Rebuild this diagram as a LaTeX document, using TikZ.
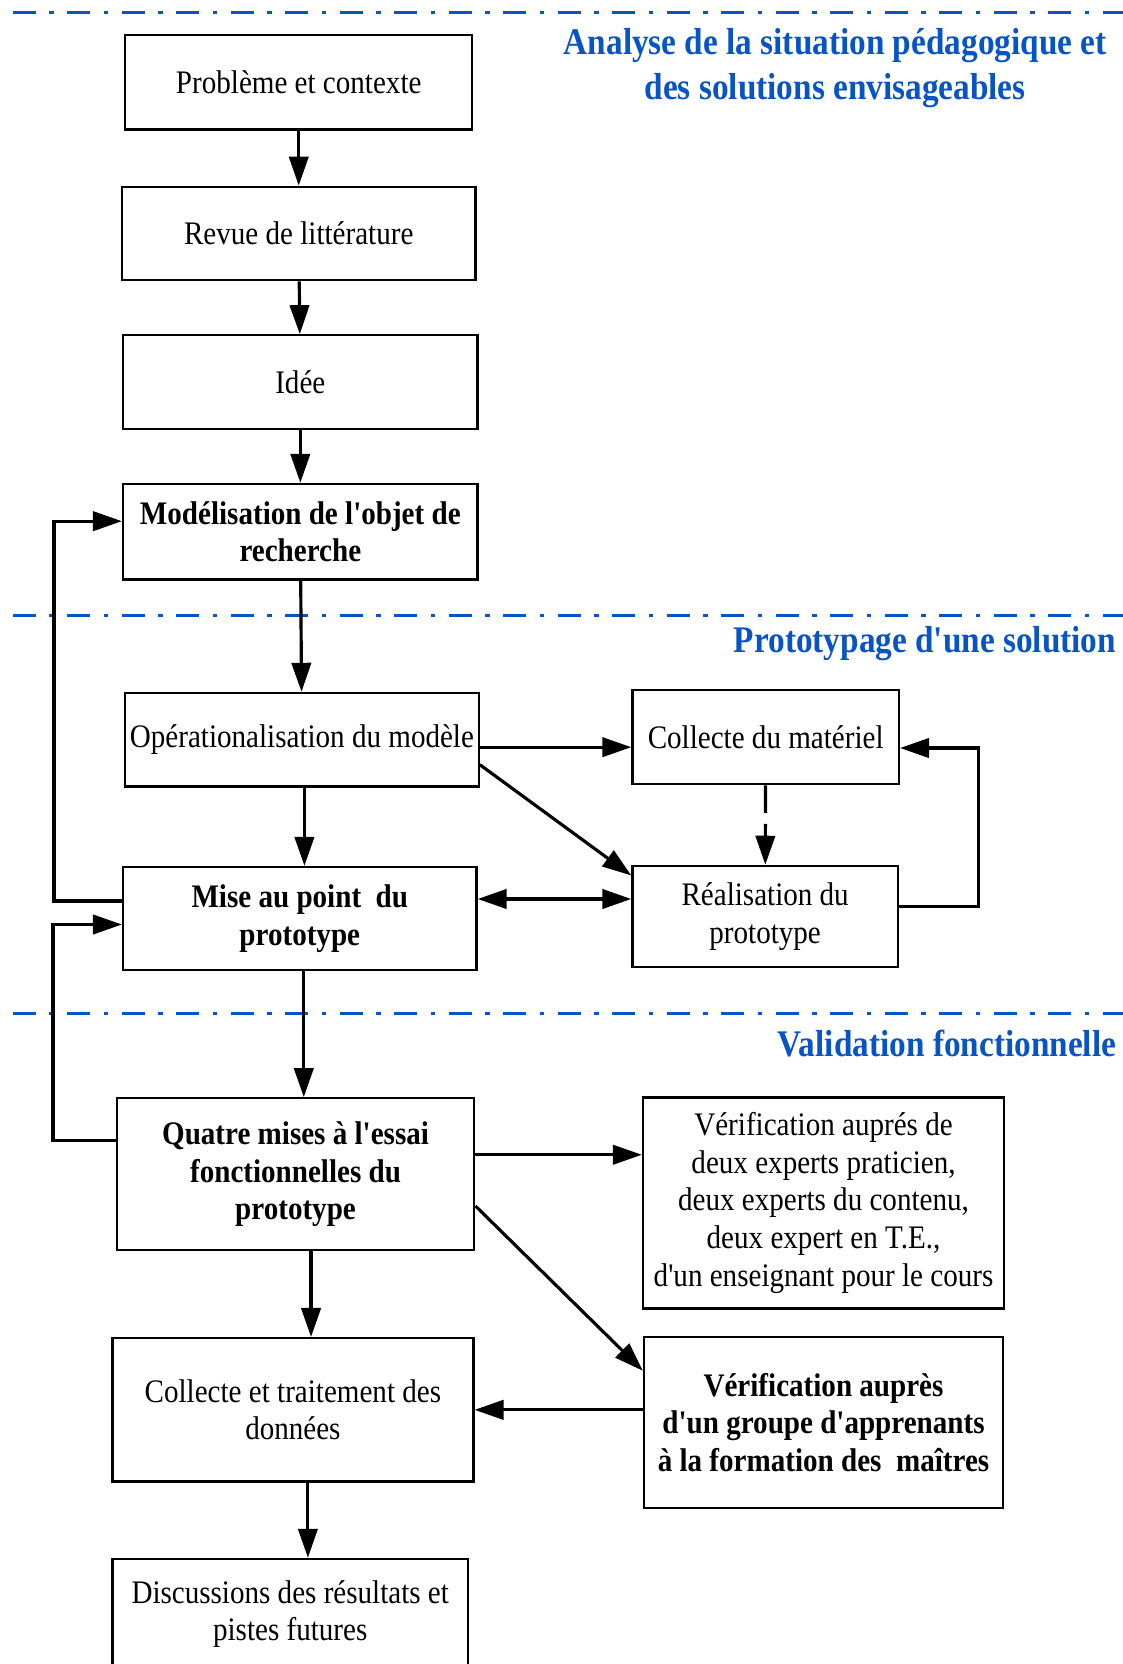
\documentclass[tikz,border=0pt]{standalone}
\usepackage{fontspec}
\setmainfont{Liberation Serif}[FakeStretch=0.885, Ligatures=TeXOff]
\usepackage{xcolor}
\usepackage{tikz}
\usetikzlibrary{arrows.meta, calc, positioning}
\definecolor{bleuphase}{RGB}{8,84,196}
\newcommand{\corps}{\fontsize{18.7}{21.4}\selectfont}
\newcommand{\grand}{\fontsize{21.4}{25.3}\selectfont\bfseries}

\begin{document}
\begin{tikzpicture}[x=0.02123cm, y=-0.02123cm,
	>={Triangle[length=16.5pt, width=11pt]},
	etape/.style={draw, line width=1.3pt, inner sep=0pt, align=center, font=\corps},
	fleche/.style={->, line width=1.8pt},
	frontiere/.style={draw=bleuphase, line width=2pt, dash pattern=on 0.46cm off 0.27cm on 0.09cm off 0.27cm},
	phase/.style={text=bleuphase, font=\grand, inner sep=0pt}]
		
		\clip (0,0) rectangle (1058,1568);
		
		% limites des phases
		\draw[frontiere] (12,12) -- (1058,12);
		\draw[frontiere] (12,580) -- (1058,580);
		\draw[frontiere] (12,955) -- (1058,955);
		
		\node[phase, align=center] (titre1) at (787,64) {Analyse de la situation pédagogique et\\des solutions envisageables};
		\node[phase, anchor=east] (titre2) at (1052,606) {Prototypage d'une solution};
		\node[phase, anchor=east] (titre3) at (1052,983) {Validation fonctionnelle};
		
		\node[etape, minimum width=6.94cm, minimum height=1.89cm] (pb) at (281.5,77.5) {Problème et contexte};
		\node[etape, minimum width=7.07cm, minimum height=1.87cm] (revue) at (281.5,220) {Revue de littérature};
		\node[etape, minimum width=7.09cm, minimum height=1.87cm] (idee) at (283,360) {Idée};
		\node[etape, minimum width=7.09cm, minimum height=1.91cm, font=\corps\bfseries] (modele) at (283,501) {Modélisation de l'objet de\\recherche};
		
		\node[etape, minimum width=7.07cm, minimum height=1.87cm] (oper) at (284.5,697) {Opérationalisation du modèle};
		\node[etape, minimum width=5.33cm, minimum height=1.89cm] (collecte) at (721.5,694.5) {Collecte du matériel};
		\node[etape, minimum width=5.31cm, minimum height=2.02cm] (realis) at (721,863.5) {Réalisation du\\prototype};
		\node[etape, minimum width=7.07cm, minimum height=2.06cm, font=\corps\bfseries] (mise) at (282.5,865.5) {Mise au point~ du\\prototype};
		
		\node[etape, minimum width=7.15cm, minimum height=3.04cm, font=\corps\bfseries] (essai) at (278.5,1106.5) {Quatre mises à l'essai\\fonctionnelles du\\prototype};
		\node[etape, minimum width=7.22cm, minimum height=4.22cm] (verif1) at (776,1133.5) {Vérification auprés de\\deux experts praticien,\\deux experts du contenu,\\deux expert en T.E.,\\d'un enseignant pour le cours};
		\node[etape, minimum width=7.18cm, minimum height=3.42cm, font=\corps\bfseries] (verif2) at (776,1340.5) {Vérification auprès\\d'un groupe d'apprenants\\à la formation des~ maîtres};
		\node[etape, minimum width=7.22cm, minimum height=2.87cm] (traite) at (276,1328.5) {Collecte et traitement des\\données};
		\node[etape, minimum width=7.11cm, minimum height=2.21cm] (discu) at (273.5,1521) {Discussions des résultats et\\pistes futures};
		
		\path[fleche]
		(pb) edge (revue)
		(revue) edge (idee)
		(idee) edge (modele)
		(modele) edge (oper)
		;
		
		\draw[fleche] ([xshift=0.05cm]oper.south) -- ([xshift=0.05cm]oper.south |- mise.north);
		\draw[fleche] ([yshift=-0.15cm]oper.east) -- ([yshift=-0.15cm]oper.east -| collecte.west);
		\draw[fleche] (oper.-8) -- (realis.163);
		\draw[fleche, dash pattern=on 0.55cm off 0.22cm] (collecte) -- (realis);
		\draw[fleche] ([yshift=0.2cm]realis.east) -- ++(75,0) |- ([yshift=-0.22cm]collecte.east);
		\draw[fleche, <->] ([yshift=0.39cm]mise.east) -- ([yshift=0.39cm]mise.east -| realis.west);
		
		% retours
		\draw[fleche] ([yshift=0.35cm]mise.west) -- ++(-64,0) |- ([yshift=0.21cm]modele.west);
		\draw[fleche] ([yshift=0.67cm]essai.west) -- ++(-59,0) |- ([yshift=-0.12cm]mise.west);
		
		\draw[fleche] ([xshift=0.08cm]mise.south) -- ([xshift=0.08cm]mise.south |- essai.north);
		\draw[fleche] ([yshift=0.39cm]essai.east) -- ([yshift=0.39cm]essai.east -| verif1.west);
		\draw[fleche] (essai.-10) -- (verif2.164);
		\draw[fleche] (traite.east -| verif2.west) -- (traite.east);
		\draw[fleche] ([xshift=0.31cm]essai.south) -- ([xshift=0.31cm]essai.south |- traite.north);
		\draw[fleche] ([xshift=0.3cm]traite.south) -- ([xshift=0.3cm]traite.south |- discu.north);
		
\end{tikzpicture}
\end{document}
